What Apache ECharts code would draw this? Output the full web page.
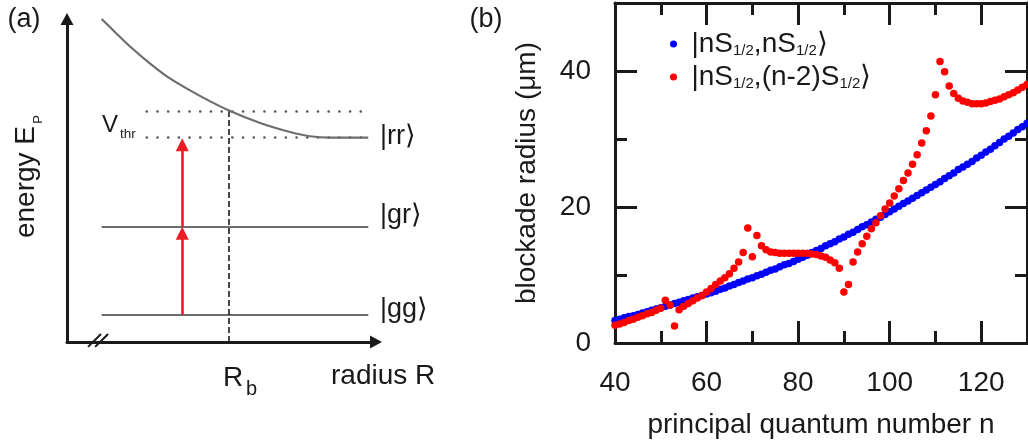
<!DOCTYPE html>
<html>
<head>
<meta charset="utf-8">
<title>blockade radius</title>
<script src="https://cdn.jsdelivr.net/npm/echarts@6/dist/echarts.min.js"></script>
<style>
  html, body { margin: 0; padding: 0; background: #fff; }
  #wrap { position: relative; width: 1028px; height: 443px; }
  #chartA { position: absolute; left: 0; top: 0; width: 460px; height: 443px; }
  #chartB { position: absolute; left: 460px; top: 0; width: 568px; height: 443px; }
</style>
</head>
<body>
<div id="wrap">
  <div id="chartA"></div>
  <div id="chartB"></div>
</div>
<script>
// ---- panel (b): blockade radius vs n ----
var nValues = [40, 41, 42, 43, 44, 45, 46, 47, 48, 49, 50, 51, 52, 53, 54, 55, 56, 57, 58, 59,
  60, 61, 62, 63, 64, 65, 66, 67, 68, 69, 70, 71, 72, 73, 74, 75, 76, 77, 78, 79,
  80, 81, 82, 83, 84, 85, 86, 87, 88, 89, 90, 91, 92, 93, 94, 95, 96, 97, 98, 99,
  100, 101, 102, 103, 104, 105, 106, 107, 108, 109, 110, 111, 112, 113, 114, 115, 116, 117, 118, 119,
  120, 121, 122, 123, 124, 125, 126, 127, 128, 129, 130];

// |nS1/2,nS1/2>
var blueRadius = [3.3, 3.5, 3.7, 3.9, 4.0, 4.2, 4.4, 4.6, 4.8, 5.0,
  5.2, 5.4, 5.6, 5.8, 6.0, 6.2, 6.4, 6.6, 6.8, 7.0,
  7.2, 7.4, 7.6, 7.9, 8.1, 8.4, 8.6, 8.9, 9.1, 9.4,
  9.6, 9.9, 10.1, 10.4, 10.7, 10.9, 11.2, 11.5, 11.7, 12.0,
  12.3, 12.6, 12.9, 13.3, 13.6, 13.9, 14.3, 14.6, 14.9, 15.3,
  15.6, 16.0, 16.3, 16.7, 17.1, 17.4, 17.8, 18.2, 18.5, 18.9,
  19.3, 19.7, 20.1, 20.5, 20.9, 21.3, 21.7, 22.1, 22.5, 22.9,
  23.3, 23.7, 24.2, 24.6, 25.0, 25.5, 25.9, 26.3, 26.7, 27.2,
  27.6, 28.1, 28.5, 29.0, 29.5, 30.0, 30.4, 30.9, 31.4, 31.8, 32.3];

// |nS1/2,(n-2)S1/2>
var redRadius = [2.6, 2.8, 3.0, 3.3, 3.5, 3.8, 4.0, 4.3, 4.5, 4.8,
  5.1, 6.3, 5.6, 2.5, 4.9, 5.4, 5.8, 6.2, 6.6, 7.0,
  7.5, 8.0, 8.6, 9.1, 9.6, 10.2, 11.0, 11.9, 13.3, 16.9,
  12.7, 15.8, 14.3, 13.7, 13.4, 13.3, 13.2, 13.2, 13.2, 13.2,
  13.2, 13.2, 13.2, 13.1, 13.0, 12.8, 12.6, 12.2, 11.8, 11.0,
  7.5, 8.6, 11.9, 13.4, 14.6, 15.7, 16.8, 17.7, 18.7, 19.7,
  20.6, 21.6, 22.7, 23.9, 25.0, 26.3, 27.7, 29.4, 31.2, 33.4,
  36.5, 41.4, 39.9, 37.8, 36.7, 36.0, 35.6, 35.4, 35.2, 35.2,
  35.2, 35.3, 35.5, 35.7, 35.9, 36.2, 36.5, 36.8, 37.2, 37.6, 38.0];

var seriesNames = ['|nS1/2,nS1/2⟩', '|nS1/2,(n-2)S1/2⟩'];
var xLabels = [40, 60, 80, 100, 120];
var yLabels = [0, 20, 40];

// ---- panel (a): schematic, in arbitrary units 0..10 ----
var curveR = [1.12, 1.55, 2.04, 2.69, 3.33, 4.30, 5.28, 6.25, 7.22, 7.86, 8.51, 9.75];
var curveE = [10.0, 9.60, 9.15, 8.62, 8.16, 7.62, 7.15, 6.78, 6.50, 6.37, 6.33, 6.33];
var levelE = [0.84, 3.57];          // |gg>, |gr>
var levelR = [1.12, 9.75];
var thresholdE = [7.15, 6.33];     // dotted lines
var thresholdR = [2.58, 9.81];
var blockadeR = 5.25;              // R_b
var laserR = 3.73;
var laserSteps = [[0.84, 3.37], [3.57, 6.11]];
var breakMarks = [[[0.68, -0.15], [1.10, 0.25]], [[0.91, -0.15], [1.33, 0.25]]];

var font = "'Liberation Sans', Arial, sans-serif";
var ink = '#1a1a1a';
var grey = '#6d6e71';

function label(x, y, str, size, align, rot) {
  return {
    type: 'text', x: x, y: y, rotation: rot || 0, silent: true,
    style: { text: str, fontSize: size, fontFamily: font, fill: ink, align: align || 'left', verticalAlign: 'middle' }
  };
}

// ===== panel (a) =====
var chartA = echarts.init(document.getElementById('chartA'));

function schemeAxis() {
  return {
    type: 'value', min: 0, max: 10,
    axisLine: { show: true, onZero: false, symbol: ['none', 'triangle'], symbolSize: [13, 12], lineStyle: { color: ink, width: 3 } },
    axisTick: { show: false }, axisLabel: { show: false }, splitLine: { show: false }
  };
}

var optionA = {
  animation: false,
  backgroundColor: '#fff',
  grid: { left: 67, width: 309, top: 19, height: 323, outerBoundsMode: 'none' },
  xAxis: schemeAxis(),
  yAxis: schemeAxis(),
  series: [
    {
      type: 'line',
      smooth: 0.3,
      showSymbol: false,
      lineStyle: { color: grey, width: 2.2 },
      data: curveR.map(function (r, i) { return [r, curveE[i]]; })
    },
    {
      type: 'lines',
      coordinateSystem: 'cartesian2d',
      lineStyle: { color: grey, width: 2.2, opacity: 1 },
      data: levelE.map(function (e) { return { coords: [[levelR[0], e], [levelR[1], e]] }; })
    },
    {
      type: 'lines',
      coordinateSystem: 'cartesian2d',
      lineStyle: { color: '#58595b', width: 2.6, type: [0.1, 10.6], cap: 'round', opacity: 1 },
      data: thresholdE.map(function (e) { return { coords: [[thresholdR[0], e], [thresholdR[1], e]] }; })
    },
    {
      type: 'lines',
      coordinateSystem: 'cartesian2d',
      lineStyle: { color: ink, width: 1.6, type: [6, 3], opacity: 1 },
      data: [{ coords: [[blockadeR, 0], [blockadeR, thresholdE[0]]] }]
    },
    {
      type: 'lines',
      coordinateSystem: 'cartesian2d',
      symbol: ['none', 'triangle'],
      symbolSize: 13,
      lineStyle: { color: '#ed1c24', width: 2.6, opacity: 1 },
      data: laserSteps.map(function (s) { return { coords: [[laserR, s[0]], [laserR, s[1]]] }; })
    },
    {
      type: 'lines',
      coordinateSystem: 'cartesian2d',
      clip: false,
      lineStyle: { color: ink, width: 2, opacity: 1 },
      data: breakMarks.map(function (c) { return { coords: c }; })
    }
  ],
  graphic: {
    elements: [
      label(24, 19.5, '(a)', 27, 'center'),
      label(26.6, 182, 'energy E', 28, 'center', Math.PI / 2),
      label(38, 119.5, 'P', 13, 'center', Math.PI / 2),
      label(102, 125, 'V', 24, 'left'),
      label(120, 134, 'thr', 13.5, 'left'),
      label(380, 137, '|rr⟩', 27, 'left'),
      label(380, 216, '|gr⟩', 27, 'left'),
      label(380, 310, '|gg⟩', 27, 'left'),
      label(223, 378, 'R', 28, 'left'),
      label(246, 389, 'b', 20, 'left'),
      label(331, 376.5, 'radius R', 28, 'left')
    ]
  }
};
chartA.setOption(optionA);

// ===== panel (b) =====
var chartB = echarts.init(document.getElementById('chartB'));

// one side of the box around panel (b)
function boxAxis(dim, pos, interval, len, withLine, labels) {
  return {
    type: 'value',
    position: pos,
    min: dim === 'x' ? 40 : 0,
    max: dim === 'x' ? 130 : 50,
    interval: interval,
    axisLine: { show: withLine, onZero: false, lineStyle: { color: ink, width: 3 } },
    axisTick: { show: true, inside: true, length: len, lineStyle: { color: ink, width: 3 } },
    axisLabel: {
      show: true,
      margin: dim === 'x' ? 26 : 24,
      fontSize: 28, fontFamily: font, color: ink,
      formatter: function (v) { return labels.indexOf(v) >= 0 ? String(v) : ''; }
    },
    splitLine: { show: false }
  };
}

var xBottom = boxAxis('x', 'bottom', 20, 22, true, xLabels);
xBottom.name = 'principal quantum number n';
xBottom.nameLocation = 'middle';
xBottom.nameGap = 68;
xBottom.nameTextStyle = { fontSize: 28, fontFamily: font, color: ink };

var yLeft = boxAxis('y', 'left', 20, 22, true, yLabels);
yLeft.name = 'blockade radius (μm)';
yLeft.nameLocation = 'middle';
yLeft.nameGap = 74;
yLeft.nameTextStyle = { fontSize: 28, fontFamily: font, color: ink };

var optionB = {
  animation: false,
  backgroundColor: '#fff',
  grid: { left: 155, right: 1, top: 3, bottom: 100, outerBoundsMode: 'none' },
  xAxis: [
    xBottom,
    boxAxis('x', 'top', 20, 22, true, []),
    boxAxis('x', 'bottom', 10, 12, false, []),
    boxAxis('x', 'top', 10, 12, false, [])
  ],
  yAxis: [
    yLeft,
    boxAxis('y', 'right', 20, 22, true, []),
    boxAxis('y', 'left', 10, 12, false, []),
    boxAxis('y', 'right', 10, 12, false, [])
  ],
  legend: {
    data: seriesNames,
    orient: 'vertical',
    left: 205,
    top: 25,
    itemWidth: 26,
    itemHeight: 7,
    itemGap: 5,
    icon: 'circle',
    formatter: function (name) {
      return name.replace(/1\/2/g, '{s|1/2}');
    },
    textStyle: {
      fontSize: 28, fontFamily: font, color: ink,
      rich: { s: { fontSize: 15, fontFamily: font, color: ink, verticalAlign: 'bottom' } }
    }
  },
  series: [
    {
      name: seriesNames[0],
      type: 'scatter',
      symbolSize: 7.5,
      itemStyle: { color: '#0000ff', opacity: 1 },
      data: nValues.map(function (n, i) { return [n, blueRadius[i]]; })
    },
    {
      name: seriesNames[1],
      type: 'scatter',
      symbolSize: 7.5,
      itemStyle: { color: '#ff0000', opacity: 1 },
      data: nValues.map(function (n, i) { return [n, redRadius[i]]; })
    }
  ],
  graphic: {
    elements: [
      label(26, 19.5, '(b)', 27, 'center')
    ]
  }
};
chartB.setOption(optionB);
</script>
</body>
</html>
